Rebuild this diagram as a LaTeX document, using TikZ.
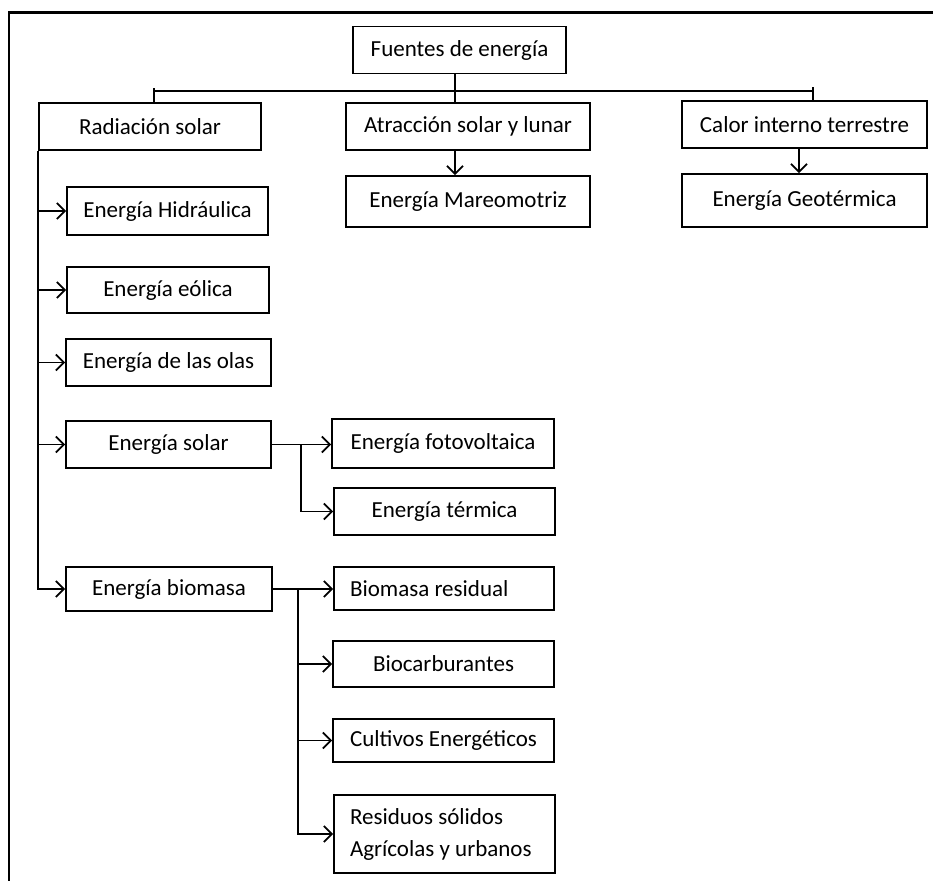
\documentclass[tikz,border=0pt]{standalone}
\usepackage{fontspec}
\setmainfont{Carlito}
\usetikzlibrary{arrows.meta}
\begin{document}
\begin{tikzpicture}[x=1pt,y=-1pt,
  box/.style={draw, line width=1.8pt, inner sep=0pt, align=center,
    font=\fontsize{23}{32}\selectfont},
  lbox/.style={draw, line width=1.8pt, inner xsep=16pt, inner ysep=0pt, align=flush left,
    font=\fontsize{23}{32}\selectfont},
  conn/.style={line width=1.8pt},
  arr/.style={conn, -{Straight Barb[length=8pt,width=16pt,line width=1.8pt]}},
  frame/.style={line width=2.6pt}]
\useasboundingbox (0,0) rectangle (933,881);
% outer frame
\coordinate (ftr) at (933,12.7);
\coordinate (fc) at (9,12.7);
\coordinate (fbl) at (9,881);
\draw[frame] (ftr) -- (fc) -- (fbl);
% top level
\node[box, minimum width=213pt, minimum height=47pt] (fuentes) at (459.5,50) {Fuentes de energía};
\node[box, minimum width=222pt, minimum height=47pt] (rad) at (150,126.5) {Radiación solar};
\node[box, minimum width=244pt, minimum height=47pt] (atr) at (468,126.5) {Atracción solar y lunar};
\node[box, minimum width=245pt, minimum height=47pt] (calor) at (804.5,124.5) {Calor interno terrestre};
\node[box, minimum width=244pt, minimum height=51pt] (mar) at (468,201.5) {Energía Mareomotriz};
\node[box, minimum width=245pt, minimum height=53pt] (geo) at (804.5,200.5) {Energía Geotérmica};
% radiación branches
\node[box, minimum width=201pt, minimum height=48pt] (hidr) at (167.5,211) {Energía Hidráulica};
\node[box, minimum width=202pt, minimum height=46pt] (eol) at (168,290) {Energía eólica};
\node[box, minimum width=205pt, minimum height=47pt] (olas) at (168.5,362.5) {Energía de las olas};
\node[box, minimum width=205pt, minimum height=47pt] (sol) at (168.5,444.5) {Energía solar};
\node[box, minimum width=206pt, minimum height=44pt] (bio) at (169,589) {Energía biomasa};
% solar branches
\node[box, minimum width=222pt, minimum height=49pt] (foto) at (443,443.5) {Energía fotovoltaica};
\node[box, minimum width=221pt, minimum height=47pt] (term) at (444.5,511.5) {Energía térmica};
% biomasa branches
\node[lbox, text width=188pt, minimum height=43pt] (biores) at (444,588.5) {Biomasa residual};
\node[box, minimum width=221pt, minimum height=46pt] (carb) at (443.5,664) {Biocarburantes};
\node[box, minimum width=221pt, minimum height=43pt] (cult) at (443.5,740.5) {Cultivos Energéticos};
\node[lbox, text width=189pt, minimum height=78pt] (res) at (444.5,834) {Residuos sólidos\\Agrícolas y urbanos};
% bus
\coordinate (bl) at (154,91);
\coordinate (br) at (813,91);
\coordinate (bc) at (455,91);
\coordinate (gc) at (799,160);
\draw[conn] (bl) -- (br);
\draw[conn] ([yshift=3pt]bl) -- (bl |- rad.north);
\draw[conn] ([yshift=4pt]br) -- (br |- calor.north);
\draw[conn] (bc |- fuentes.south) -- (bc |- atr.north);
\draw[arr] (bc |- atr.south) -- (bc |- mar.north);
\draw[arr] (gc |- calor.south) -- (gc |- geo.north);
% trunk
\draw[arr] (rad.south west) |- (bio.west);
\foreach \n in {hidr,eol,olas,sol}
  \draw[arr] (rad.south west |- \n.west) -- (\n.west);
% solar
\coordinate (sb) at (301,450);
\draw[arr] (sol.east) -- (sol.east -| foto.west);
\draw[arr] (sb |- sol.east) |- (term.west);
% biomasa
\coordinate (bb) at (298,600);
\draw[arr] (bio.east) -- (bio.east -| biores.west);
\draw[arr] (bb |- bio.east) |- (res.west);
\foreach \n in {carb,cult}
  \draw[arr] (bb |- \n.west) -- (\n.west);
\end{tikzpicture}
\end{document}
